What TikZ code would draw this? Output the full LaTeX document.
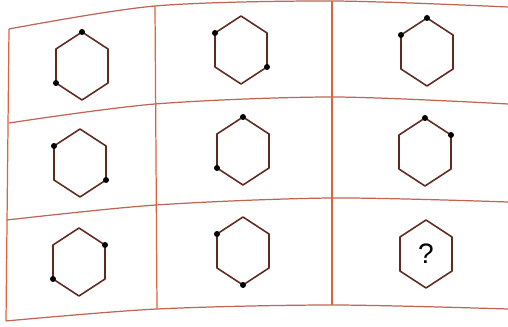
\documentclass[tikz,border=0pt]{standalone}
\usepackage{fontspec}
\setsansfont{Liberation Sans}

\definecolor{gridred}{RGB}{222,98,62}
\definecolor{gridrule}{RGB}{192,100,86}
\definecolor{hexbrown}{RGB}{96,42,32}

\begin{document}
\begin{tikzpicture}[x=0.02cm, y=-0.02cm, rule/.style={draw=gridrule, line width=0.7pt}, post/.style={draw=gridred, line width=0.7pt}, hexa/.style={draw=hexbrown, line width=0.9pt, line join=round}, blob/.style={fill=black}]
\useasboundingbox (0,0) rectangle (508,327);
% grid corners (rows a..d, columns 0..3)
\coordinate (a0) at (9,29);   \coordinate (a1) at (155,6);   \coordinate (a2) at (332,1);   \coordinate (a3) at (508,7);
\coordinate (b0) at (9,123);  \coordinate (b1) at (155,104); \coordinate (b2) at (332,97);  \coordinate (b3) at (508,104);
\coordinate (c0) at (7,220);  \coordinate (c1) at (156,205); \coordinate (c2) at (332,198); \coordinate (c3) at (508,202);
\coordinate (d0) at (6,321);  \coordinate (d1) at (157,309); \coordinate (d2) at (332,305); \coordinate (d3) at (508,309);
\foreach \r in {a,b,c,d}
  \draw[rule] plot[smooth] coordinates {(\r0) (\r1) (\r2) (\r3)};
\foreach \k in {0,1,2}
  \draw[post] (a\k) -- (d\k);
% hexagons with their two marked corners
\foreach \cx/\cy/\pa/\pb/\qa/\qb in {82/66/0/-34/-26/17, 241/50/-26/-17/26/17, 427/52/0/-34/-26/-17, 80/163/-26/-17/26/17, 243/151/0/-34/-26/17, 425/152/0/-34/26/-17, 79/262/26/-17/-26/17, 243/251/-26/-17/0/34}{
  \begin{scope}[shift={(\cx,\cy)}]
    \draw[hexa] (0,-34) -- (26,-17) -- (26,17) -- (0,34) -- (-26,17) -- (-26,-17) -- cycle;
    \fill[blob] (\pa,\pb) circle (3);
    \fill[blob] (\qa,\qb) circle (3);
  \end{scope}
}
\begin{scope}[shift={(426,254)}]
  \draw[hexa] (0,-34) -- (26,-17) -- (26,17) -- (0,34) -- (-26,17) -- (-26,-17) -- cycle;
\end{scope}
\node[font=\sffamily\fontsize{16}{16}\selectfont] (what) at (426,254) {?};
\end{tikzpicture}
\end{document}
